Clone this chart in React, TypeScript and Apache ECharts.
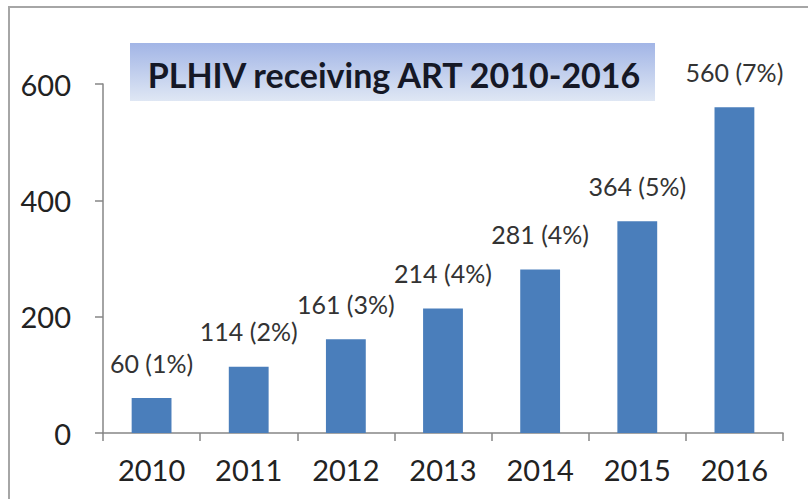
import React, { useEffect, useRef } from "react";
import * as echarts from "echarts";

const years = ["2010", "2011", "2012", "2013", "2014", "2015", "2016"];
const receivingArt = [60, 114, 161, 214, 281, 364, 560];
const percentOfPlhiv = [1, 2, 3, 4, 4, 5, 7];
const titleText = "PLHIV receiving ART 2010-2016";

export default function App() {
  const ref = useRef<HTMLDivElement>(null);
  useEffect(() => {
    if (!ref.current) return;
    const chart = echarts.init(ref.current, null, { renderer: "svg" });
    const font = "Lato, 'Open Sans', sans-serif";
    chart.setOption({
      animation: false,
      backgroundColor: "#ffffff",
      grid: { left: 103, right: 25, top: 84, bottom: 66 },
      graphic: [
        {
          type: "rect",
          shape: { x: 9, y: 7, width: 830, height: 530 },
          style: { fill: "none", stroke: "#a6a6a6", lineWidth: 2 },
          z: 0,
        },
        {
          type: "rect",
          shape: { x: 130, y: 43, width: 525, height: 58 },
          style: {
            fill: new echarts.graphic.LinearGradient(0, 0, 0, 1, [
              { offset: 0, color: "#a2b5e6" },
              { offset: 1, color: "#dfe7f4" },
            ]),
          },
          z: 1,
        },
        {
          type: "text",
          x: 394,
          y: 74,
          style: {
            text: titleText,
            fill: "#151826",
            font: `bold 34px ${font}`,
            align: "center",
            verticalAlign: "middle",
          },
          z: 2,
        },
      ],
      xAxis: {
        type: "category",
        data: years,
        axisLine: { show: true, lineStyle: { color: "#868686", width: 1.5 } },
        axisTick: { show: true, length: 8, lineStyle: { color: "#868686", width: 1.5 } },
        axisLabel: { color: "#222222", fontSize: 29, fontFamily: font, margin: 22 },
      },
      yAxis: {
        type: "value",
        min: 0,
        max: 600,
        interval: 200,
        splitLine: { show: false },
        axisLine: { show: true, lineStyle: { color: "#868686", width: 1.5 } },
        axisTick: { show: true, length: 8, lineStyle: { color: "#868686", width: 1.5 } },
        axisLabel: { color: "#222222", fontSize: 29, fontFamily: font, margin: 32 },
      },
      series: [
        {
          type: "bar",
          data: receivingArt,
          barWidth: "41%",
          itemStyle: { color: "#4a7ebb" },
          label: {
            show: true,
            position: "top",
            distance: 23,
            color: "#333333",
            fontSize: 25,
            fontFamily: font,
            formatter: (p: any) => `${p.value} (${percentOfPlhiv[p.dataIndex]}%)`,
          },
        },
      ],
    });
    return () => chart.dispose();
  }, []);
  return (
    <div
      ref={ref}
      style={{ position: "fixed", left: 0, top: 0, width: 808, height: 499 }}
    />
  );
}
